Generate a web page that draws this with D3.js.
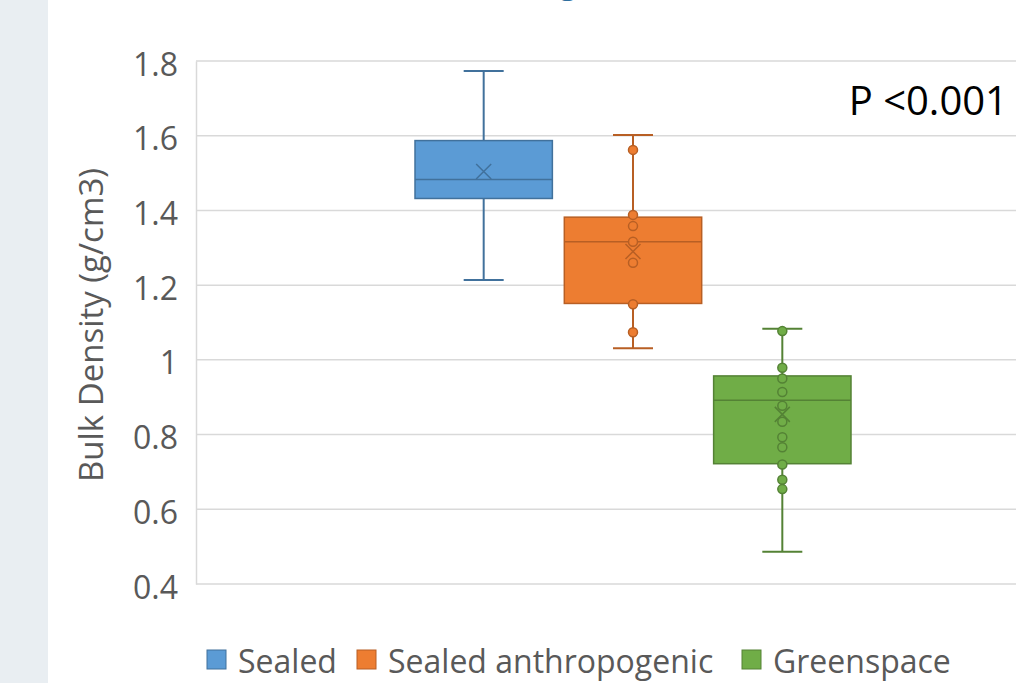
<!DOCTYPE html>
<html>
<head>
<meta charset="utf-8">
<script src="https://cdn.jsdelivr.net/npm/d3@7"></script>
<style>
  body { margin: 0; background: #fff; }
  svg { display: block; font-family: "Open Sans", sans-serif; }
</style>
</head>
<body>
<script>
// data
const series = ['Sealed', 'Sealed anthropogenic', 'Greenspace'];
const colors = ['#5B9BD5', '#ED7D31', '#70AD47'];
const strokes = ['#41719C', '#B85F24', '#548235'];
const whiskerLow = [1.214, 1.031, 0.486];
const q1 = [1.432, 1.151, 0.722];
const median = [1.483, 1.316, 0.892];
const q3 = [1.587, 1.382, 0.957];
const whiskerHigh = [1.773, 1.602, 1.083];
const means = [1.504, 1.290, 0.854];
const points = [
  [],
  [1.562, 1.388, 1.358, 1.316, 1.260, 1.149, 1.074],
  [1.077, 0.979, 0.950, 0.914, 0.877, 0.834, 0.793, 0.766, 0.720, 0.679, 0.654]
];
const yTicks = [0.4, 0.6, 0.8, 1, 1.2, 1.4, 1.6, 1.8];

let width = 1016;
let height = 683;
let svg = d3.select('body').append('svg')
  .attr('width', width)
  .attr('height', height);

// grey strip on the left
svg.append('rect')
  .attr('x', 0).attr('y', 0)
  .attr('width', 48).attr('height', height)
  .attr('fill', '#e9eef2');

// bit of the cut off title (only the descender shows)
svg.append('text')
  .attr('x', 568).attr('y', -6)
  .attr('text-anchor', 'middle')
  .attr('font-size', 30)
  .attr('font-weight', 'bold')
  .attr('fill', '#2f6f9f')
  .text('g');

let plotLeft = 196;
let plotRight = 1068;

let yScale = d3.scaleLinear()
  .domain([0.4, 1.8])
  .range([584, 61]);

let xScale = d3.scaleBand()
  .domain(series)
  .range([415, 851])
  .paddingInner(0.08);

// gridlines
svg.append('g')
  .selectAll('line')
  .data(yTicks)
  .enter()
  .append('line')
  .attr('x1', plotLeft)
  .attr('x2', plotRight)
  .attr('y1', d => yScale(d))
  .attr('y2', d => yScale(d))
  .attr('stroke', '#d9d9d9')
  .attr('stroke-width', 1.5);

// y axis
let yAxis = d3.axisLeft(yScale)
  .tickValues(yTicks)
  .tickSize(0)
  .tickPadding(18)
  .tickFormat(d => d3.format('')(d));

let gy = svg.append('g')
  .attr('transform', 'translate(' + plotLeft + ',0)')
  .call(yAxis);
gy.select('.domain').attr('stroke', '#d9d9d9').attr('stroke-width', 1.5);
gy.selectAll('text')
  .attr('font-size', 32)
  .attr('dy', '0.44em')
  .attr('font-family', '"Open Sans", sans-serif')
  .attr('fill', '#595959');

// axis title
svg.append('text')
  .attr('transform', 'translate(103, 325) rotate(-90)')
  .attr('text-anchor', 'middle')
  .attr('font-size', 33)
  .attr('fill', '#595959')
  .text('Bulk Density (g/cm3)');

// boxes
let boxes = svg.append('g')
  .selectAll('g')
  .data(series)
  .enter()
  .append('g');

boxes.each(function (name, i) {
  let g = d3.select(this);
  let cx = xScale(name) + xScale.bandwidth() / 2;
  let capHalf = 20;

  // whiskers
  g.append('line')
    .attr('x1', cx).attr('x2', cx)
    .attr('y1', yScale(whiskerHigh[i])).attr('y2', yScale(whiskerLow[i]))
    .attr('stroke', strokes[i]).attr('stroke-width', 2);
  [whiskerHigh[i], whiskerLow[i]].forEach(v => {
    g.append('line')
      .attr('x1', cx - capHalf).attr('x2', cx + capHalf)
      .attr('y1', yScale(v)).attr('y2', yScale(v))
      .attr('stroke', strokes[i]).attr('stroke-width', 2);
  });

  // box
  g.append('rect')
    .attr('x', xScale(name))
    .attr('y', yScale(q3[i]))
    .attr('width', xScale.bandwidth())
    .attr('height', yScale(q1[i]) - yScale(q3[i]))
    .attr('fill', colors[i])
    .attr('stroke', strokes[i])
    .attr('stroke-width', 1.5);

  // median
  g.append('line')
    .attr('x1', xScale(name)).attr('x2', xScale(name) + xScale.bandwidth())
    .attr('y1', yScale(median[i])).attr('y2', yScale(median[i]))
    .attr('stroke', strokes[i]).attr('stroke-width', 1.5);

  // points
  g.selectAll('circle')
    .data(points[i])
    .enter()
    .append('circle')
    .attr('cx', cx)
    .attr('cy', d => yScale(d))
    .attr('r', 4.5)
    .attr('fill', colors[i])
    .attr('stroke', strokes[i])
    .attr('stroke-width', 1.5);

  // mean cross
  let my = yScale(means[i]);
  let s = 7.5;
  g.append('path')
    .attr('d', 'M' + (cx - s) + ',' + (my - s) + 'L' + (cx + s) + ',' + (my + s) +
               'M' + (cx - s) + ',' + (my + s) + 'L' + (cx + s) + ',' + (my - s))
    .attr('stroke', strokes[i])
    .attr('stroke-width', 1.5)
    .attr('fill', 'none');
});

// p value
svg.append('text')
  .attr('x', 1008).attr('y', 115)
  .attr('text-anchor', 'end')
  .attr('font-size', 40)
  .attr('fill', '#000')
  .text('P <0.001');

// legend
let legendX = [207, 357, 742];
let legend = svg.append('g')
  .selectAll('g')
  .data(series)
  .enter()
  .append('g')
  .attr('transform', (d, i) => 'translate(' + legendX[i] + ', 650)');
legend.append('rect')
  .attr('width', 19).attr('height', 19)
  .attr('fill', (d, i) => colors[i])
  .attr('stroke', (d, i) => strokes[i])
  .attr('stroke-width', 1);
legend.append('text')
  .attr('x', 31)
  .attr('y', 23)
  .attr('font-size', 32)
  .attr('fill', '#595959')
  .text(d => d);
</script>
</body>
</html>
